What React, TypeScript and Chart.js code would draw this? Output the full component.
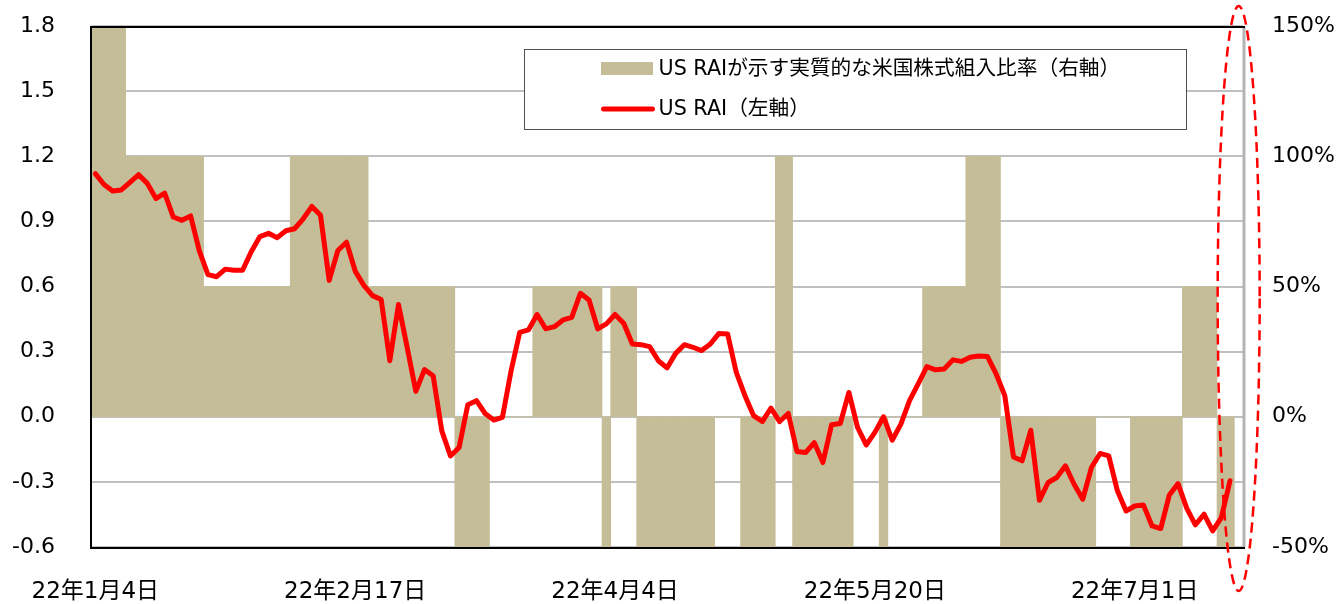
import React, { useEffect, useRef } from 'react';
import { Chart, registerables } from 'chart.js';

Chart.register(...registerables);

// x-axis: Japanese trading days from 22年1月4日; a label every 30 trading days
const TICK_LABELS = ['22年1月4日', '22年2月17日', '22年4月4日', '22年5月20日', '22年7月1日'];
const TICK_EVERY = 30;
const CATEGORY_COUNT = 133; // 132 trading days + one empty slot at the right edge

const LEFT_TICKS = { min: -0.6, max: 1.8, step: 0.3 };
const RIGHT_TICKS = { min: -50, max: 150, step: 50 };

// US RAI (left axis)
const US_RAI = [
  1.12, 1.07, 1.04, 1.045, 1.08, 1.115, 1.075, 1.005, 1.03, 0.92,
  0.905, 0.925, 0.765, 0.655, 0.645, 0.68, 0.675, 0.675, 0.76, 0.83,
  0.845, 0.825, 0.857, 0.866, 0.912, 0.969, 0.928, 0.628, 0.766, 0.804,
  0.671, 0.605, 0.558, 0.54, 0.258, 0.517, 0.32, 0.117, 0.217, 0.189,
  -0.065, -0.181, -0.142, 0.055, 0.074, 0.015, -0.015, -0.003, 0.212, 0.389,
  0.4, 0.471, 0.405, 0.415, 0.446, 0.458, 0.569, 0.538, 0.405, 0.428,
  0.471, 0.431, 0.335, 0.332, 0.323, 0.258, 0.225, 0.292, 0.332, 0.32,
  0.305, 0.335, 0.384, 0.381, 0.204, 0.097, 0.005, -0.022, 0.04, -0.022,
  0.015, -0.16, -0.165, -0.119, -0.211, -0.037, -0.031, 0.112, -0.049, -0.13,
  -0.072, 0.0, -0.108, -0.034, 0.074, 0.151, 0.231, 0.216, 0.22, 0.262,
  0.255, 0.274, 0.28, 0.277, 0.197, 0.097, -0.185, -0.203, -0.062, -0.385,
  -0.303, -0.28, -0.226, -0.311, -0.38, -0.234, -0.169, -0.18, -0.341, -0.434,
  -0.411, -0.406, -0.503, -0.515, -0.36, -0.308, -0.421, -0.498, -0.449, -0.526,
  -0.465, -0.295,
];

// Effective US equity allocation implied by US RAI, % (right axis)
const ALLOCATION = [
  150, 150, 150, 150,
  100, 100, 100, 100, 100, 100, 100, 100, 100,
  50, 50, 50, 50, 50, 50, 50, 50, 50, 50,
  100, 100, 100, 100, 100, 100, 100, 100, 100,
  50, 50, 50, 50, 50, 50, 50, 50, 50, 50,
  -50, -50, -50, -50,
  0, 0, 0, 0, 0,
  50, 50, 50, 50, 50, 50, 50, 50,
  -50,
  50, 50, 50,
  -50, -50, -50, -50, -50, -50, -50, -50, -50,
  0, 0, 0,
  -50, -50, -50, -50,
  100, 100,
  -50, -50, -50, -50, -50, -50, -50,
  0, 0, 0,
  -50,
  0, 0, 0, 0,
  50, 50, 50, 50, 50,
  100, 100, 100, 100,
  -50, -50, -50, -50, -50, -50, -50, -50, -50, -50, -50,
  0, 0, 0, 0,
  -50, -50, -50, -50, -50, -50,
  50, 50, 50, 50,
  -50, -50,
];

const LEGEND_BAR = 'US RAIが示す実質的な米国株式組入比率（右軸）';
const LEGEND_LINE = 'US RAI（左軸）';

const BAR_COLOR = '#C4BD97';
const LINE_COLOR = '#FF0000';
const FONT_FAMILY = "'DejaVu Sans', 'Noto Sans CJK JP', sans-serif";

const framePlugin = {
  id: 'frame',
  afterDatasetsDraw(chart: any) {
    const { ctx, chartArea } = chart;
    const { left, right, top, bottom } = chartArea;
    ctx.save();
    ctx.setLineDash([]);
    ctx.lineCap = 'butt';
    ctx.strokeStyle = '#B4B4B4';
    ctx.lineWidth = 3;
    ctx.beginPath();
    ctx.moveTo(right + 1, top);
    ctx.lineTo(right + 1, bottom);
    ctx.stroke();
    ctx.strokeStyle = '#000000';
    ctx.lineWidth = 2;
    ctx.beginPath();
    ctx.moveTo(left, top + 1);
    ctx.lineTo(right + 2, top + 1);
    ctx.moveTo(left, top);
    ctx.lineTo(left, bottom + 1);
    ctx.moveTo(left - 1, bottom + 1);
    ctx.lineTo(right + 2, bottom + 1);
    ctx.stroke();
    ctx.restore();
  },
};

const legendPlugin = {
  id: 'boxLegend',
  afterDraw(chart: any) {
    const { ctx, chartArea } = chart;
    const bx = chartArea.left + 433.5;
    const by = chartArea.top + 23.5;
    const bw = 662;
    const bh = 80;
    ctx.save();
    ctx.fillStyle = '#FFFFFF';
    ctx.fillRect(bx, by, bw, bh);
    ctx.strokeStyle = '#505050';
    ctx.lineWidth = 1;
    ctx.strokeRect(bx, by, bw, bh);

    ctx.fillStyle = BAR_COLOR;
    ctx.fillRect(bx + 76.5, by + 12.5, 52, 13);

    ctx.strokeStyle = LINE_COLOR;
    ctx.lineWidth = 5;
    ctx.lineCap = 'round';
    ctx.beginPath();
    ctx.moveTo(bx + 79, by + 59.5);
    ctx.lineTo(bx + 128, by + 59.5);
    ctx.stroke();

    ctx.fillStyle = '#000000';
    ctx.font = `20.7px ${FONT_FAMILY}`;
    ctx.textAlign = 'left';
    ctx.textBaseline = 'alphabetic';
    ctx.fillText(LEGEND_BAR, bx + 134, by + 25);
    ctx.fillText(LEGEND_LINE, bx + 134, by + 65);
    ctx.restore();
  },
};

const ellipsePlugin = {
  id: 'dashedEllipse',
  afterDraw(chart: any) {
    const { ctx, chartArea, scales } = chart;
    const cx = scales.x.getPixelForValue(CATEGORY_COUNT - 1);
    const top = chartArea.top - 20;
    const bottom = chartArea.bottom + 44;
    ctx.save();
    ctx.strokeStyle = LINE_COLOR;
    ctx.lineWidth = 2.5;
    ctx.setLineDash([10, 6]);
    ctx.beginPath();
    ctx.ellipse(cx, (top + bottom) / 2, 21, (bottom - top) / 2, 0, 0, Math.PI * 2);
    ctx.stroke();
    ctx.restore();
  },
};

export default function App() {
  const canvasRef = useRef<HTMLCanvasElement | null>(null);

  useEffect(() => {
    const canvas = canvasRef.current;
    if (!canvas) return;
    const categories = Array.from({ length: CATEGORY_COUNT }, (_, i) => String(i));

    const chart = new Chart(canvas, {
      type: 'bar',
      data: {
        labels: categories,
        datasets: [
          {
            type: 'line',
            label: LEGEND_LINE,
            data: US_RAI,
            yAxisID: 'y',
            borderColor: LINE_COLOR,
            backgroundColor: LINE_COLOR,
            borderWidth: 5,
            pointRadius: 0,
            pointHoverRadius: 0,
            tension: 0,
            borderJoinStyle: 'round',
            borderCapStyle: 'round',
            fill: false,
            order: 0,
          } as any,
          {
            type: 'bar',
            label: LEGEND_BAR,
            data: ALLOCATION,
            yAxisID: 'y1',
            backgroundColor: BAR_COLOR,
            borderWidth: 0,
            barPercentage: 1,
            categoryPercentage: 1,
            order: 1,
          } as any,
        ],
      },
      options: {
        animation: false,
        responsive: false,
        devicePixelRatio: 1,
        layout: { padding: { top: 26, right: 0, bottom: 0, left: 0 } },
        plugins: {
          legend: { display: false },
          tooltip: { enabled: false },
        },
        scales: {
          x: {
            type: 'category',
            offset: true,
            grid: { display: false, drawTicks: false },
            border: { display: false },
            ticks: {
              autoSkip: false,
              maxRotation: 0,
              minRotation: 0,
              padding: 31,
              color: '#000000',
              font: { family: FONT_FAMILY, size: 23 },
              callback: (_v: any, i: number) =>
                i % TICK_EVERY === 0 ? TICK_LABELS[i / TICK_EVERY] ?? '' : '',
            },
            afterFit: (s: any) => {
              s.height = 57;
              s.paddingLeft = 0;
              s.paddingRight = 0;
            },
          },
          y: {
            position: 'left',
            min: LEFT_TICKS.min,
            max: LEFT_TICKS.max,
            grid: { color: '#C0C0C0', lineWidth: 2, drawTicks: false },
            border: { display: false },
            ticks: {
              stepSize: LEFT_TICKS.step,
              padding: 36,
              color: '#000000',
              font: { family: FONT_FAMILY, size: 22 },
              callback: (v: any) => Number(v).toFixed(1),
            },
            afterFit: (s: any) => {
              s.width = 91;
              s.paddingTop = 0;
              s.paddingBottom = 0;
            },
          },
          y1: {
            position: 'right',
            min: RIGHT_TICKS.min,
            max: RIGHT_TICKS.max,
            grid: { display: false, drawTicks: false },
            border: { display: false },
            ticks: {
              stepSize: RIGHT_TICKS.step,
              padding: 29,
              color: '#000000',
              font: { family: FONT_FAMILY, size: 22 },
              callback: (v: any) => `${Math.round(Number(v))}%`,
            },
            afterFit: (s: any) => {
              s.width = 95;
              s.paddingTop = 0;
              s.paddingBottom = 0;
            },
          },
        },
      } as any,
      plugins: [framePlugin, legendPlugin, ellipsePlugin],
    });

    return () => {
      chart.destroy();
    };
  }, []);

  return (
    <div
      style={{
        position: 'fixed',
        left: 0,
        top: 0,
        width: 1338,
        height: 604,
        background: '#FFFFFF',
      }}
    >
      <canvas ref={canvasRef} width={1338} height={604} style={{ display: 'block' }} />
    </div>
  );
}
